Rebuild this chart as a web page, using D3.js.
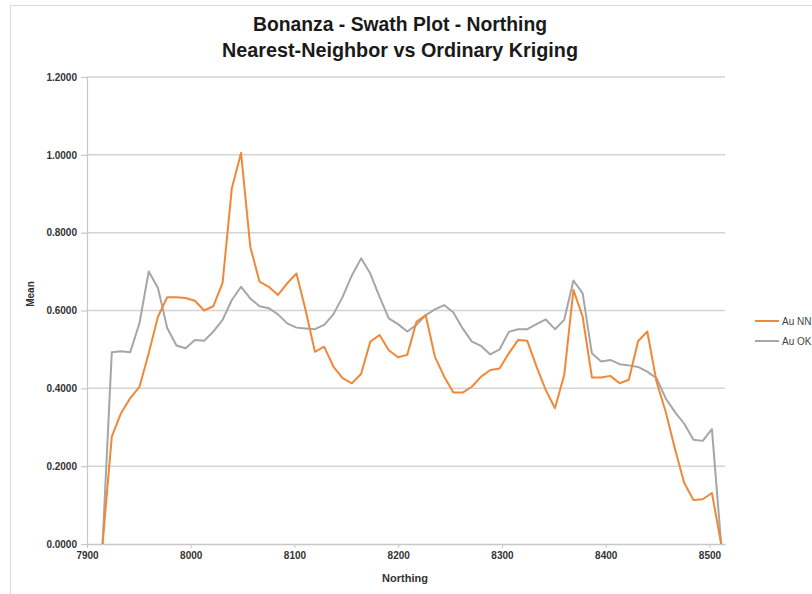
<!DOCTYPE html>
<html>
<head>
<meta charset="utf-8">
<script src="https://cdn.jsdelivr.net/npm/d3@7"></script>
<style>
  html, body { margin: 0; padding: 0; background: #fff; }
  svg { display: block; font-family: "Liberation Sans", Arial, sans-serif; }
</style>
</head>
<body>
<svg id="chart" width="812" height="594"></svg>
<script>
// ---- data ----
const titleLines = ["Bonanza - Swath Plot - Northing", "Nearest-Neighbor vs Ordinary Kriging"];
const seriesNames = ["Au NN", "Au OK"];
const xTicks = [7900, 8000, 8100, 8200, 8300, 8400, 8500];
const yTicks = [0, 0.2, 0.4, 0.6, 0.8, 1.0, 1.2];

const northing = [
  7915.0, 7923.9, 7932.8, 7941.7, 7950.6, 7959.5, 7968.4, 7977.3, 7986.2, 7995.1,
  8004.0, 8012.9, 8021.8, 8030.7, 8039.6, 8048.5, 8057.4, 8066.3, 8075.2, 8084.1,
  8093.0, 8101.9, 8110.8, 8119.7, 8128.6, 8137.5, 8146.4, 8155.3, 8164.2, 8173.1,
  8182.0, 8190.9, 8199.8, 8208.7, 8217.6, 8226.5, 8235.4, 8244.3, 8253.2, 8262.1,
  8271.0, 8279.9, 8288.8, 8297.7, 8306.6, 8315.5, 8324.4, 8333.3, 8342.2, 8351.1,
  8360.0, 8368.9, 8377.8, 8386.7, 8395.6, 8404.5, 8413.4, 8422.3, 8431.2, 8440.1,
  8449.0, 8457.9, 8466.8, 8475.7, 8484.6, 8493.5, 8502.4, 8511.3
];
const auNN = [
  0.000, 0.276, 0.336, 0.375, 0.404, 0.490, 0.584, 0.634, 0.634, 0.632,
  0.625, 0.600, 0.611, 0.671, 0.914, 1.005, 0.764, 0.674, 0.661, 0.640,
  0.670, 0.695, 0.600, 0.494, 0.507, 0.456, 0.426, 0.413, 0.437, 0.520,
  0.537, 0.498, 0.480, 0.486, 0.571, 0.588, 0.481, 0.430, 0.389, 0.389,
  0.404, 0.430, 0.447, 0.451, 0.490, 0.524, 0.522, 0.456, 0.396, 0.349,
  0.434, 0.653, 0.584, 0.428, 0.428, 0.432, 0.413, 0.422, 0.521, 0.546,
  0.417, 0.339, 0.244, 0.157, 0.113, 0.115, 0.131, 0.000
];
const auOK = [
  0.000, 0.493, 0.495, 0.493, 0.568, 0.700, 0.658, 0.555, 0.510, 0.503,
  0.524, 0.522, 0.546, 0.576, 0.627, 0.661, 0.631, 0.611, 0.606, 0.590,
  0.567, 0.556, 0.554, 0.552, 0.563, 0.590, 0.635, 0.690, 0.734, 0.695,
  0.635, 0.580, 0.565, 0.546, 0.563, 0.588, 0.603, 0.614, 0.595, 0.554,
  0.520, 0.509, 0.487, 0.500, 0.545, 0.552, 0.552, 0.565, 0.577, 0.552,
  0.576, 0.677, 0.644, 0.490, 0.469, 0.473, 0.462, 0.459, 0.455, 0.443,
  0.426, 0.374, 0.339, 0.309, 0.268, 0.265, 0.295, 0.000
];

// ---- layout ----
const colors = ["#F0883A", "#A6A6A6"];
const plot = { left: 87, right: 725, top: 77, bottom: 544 };

const svg = d3.select("#chart");

// outer chart border (only left and top visible in reference)
svg.append("rect")
  .attr("x", 10.5).attr("y", 5.5).attr("width", 900).attr("height", 700)
  .attr("fill", "none").attr("stroke", "#d9d9d9").attr("stroke-width", 1);

const x = d3.scaleLinear().domain([7900, 8515]).range([plot.left, plot.right]);
const y = d3.scaleLinear().domain([0, 1.2]).range([plot.bottom, plot.top]);

// gridlines
svg.append("g")
  .selectAll("line").data(yTicks.filter(d => d > 0)).join("line")
  .attr("x1", plot.left).attr("x2", plot.right)
  .attr("y1", d => y(d)).attr("y2", d => y(d))
  .attr("stroke", "#d4d4d4").attr("stroke-width", 1.5);

// y axis
const yAxis = svg.append("g")
  .attr("transform", `translate(${plot.left},0)`)
  .call(d3.axisLeft(y).tickValues(yTicks).tickFormat(d3.format(".4f")).tickSize(6).tickPadding(4));
yAxis.select(".domain").attr("stroke", "#c8c8c8").attr("stroke-width", 1.2);
yAxis.selectAll(".tick line").attr("stroke", "#c8c8c8").attr("stroke-width", 1.2);
yAxis.selectAll(".tick text")
  .attr("font-family", "Liberation Sans, Arial, sans-serif")
  .attr("font-size", 10).attr("font-weight", "bold").attr("fill", "#333");

// x axis
const xAxis = svg.append("g")
  .attr("transform", `translate(0,${plot.bottom})`)
  .call(d3.axisBottom(x).tickValues(xTicks).tickFormat(d3.format("d")).tickSize(4).tickPadding(4).tickSizeOuter(0));
xAxis.select(".domain").attr("stroke", "#c8c8c8").attr("stroke-width", 1.5);
xAxis.selectAll(".tick line").attr("stroke", "#c8c8c8").attr("stroke-width", 1);
xAxis.selectAll(".tick text")
  .attr("font-family", "Liberation Sans, Arial, sans-serif")
  .attr("font-size", 10).attr("font-weight", "bold").attr("fill", "#333");

// lines
const seriesData = [auNN, auOK];
const line = d3.line().x((d, i) => x(northing[i])).y(d => y(d));
[1, 0].forEach(s => {
  svg.append("path")
    .datum(seriesData[s])
    .attr("d", line)
    .attr("fill", "none")
    .attr("stroke", colors[s])
    .attr("stroke-width", 2)
    .attr("stroke-linejoin", "round");
});

// titles
svg.append("text")
  .attr("x", 400).attr("y", 31)
  .attr("text-anchor", "middle")
  .attr("font-size", 20).attr("font-weight", "bold").attr("fill", "#1a1a1a")
  .attr("textLength", 294).attr("lengthAdjust", "spacingAndGlyphs")
  .text(titleLines[0]);
svg.append("text")
  .attr("x", 400).attr("y", 57)
  .attr("text-anchor", "middle")
  .attr("font-size", 20).attr("font-weight", "bold").attr("fill", "#1a1a1a")
  .attr("textLength", 356).attr("lengthAdjust", "spacingAndGlyphs")
  .text(titleLines[1]);

// axis titles
svg.append("text")
  .attr("transform", "translate(34,294) rotate(-90)")
  .attr("text-anchor", "middle")
  .attr("font-size", 10).attr("font-weight", "bold").attr("fill", "#333")
  .text("Mean");
svg.append("text")
  .attr("x", 405).attr("y", 582)
  .attr("text-anchor", "middle")
  .attr("font-size", 11).attr("font-weight", "bold").attr("fill", "#333")
  .text("Northing");

// legend
const legend = svg.append("g");
seriesNames.forEach((name, i) => {
  const ly = 321 + i * 20;
  legend.append("line")
    .attr("x1", 755).attr("x2", 779).attr("y1", ly).attr("y2", ly)
    .attr("stroke", colors[i]).attr("stroke-width", 2);
  legend.append("text")
    .attr("x", 782).attr("y", ly + 3.5)
    .attr("font-size", 10).attr("fill", "#444")
    .text(name);
});
</script>
</body>
</html>
